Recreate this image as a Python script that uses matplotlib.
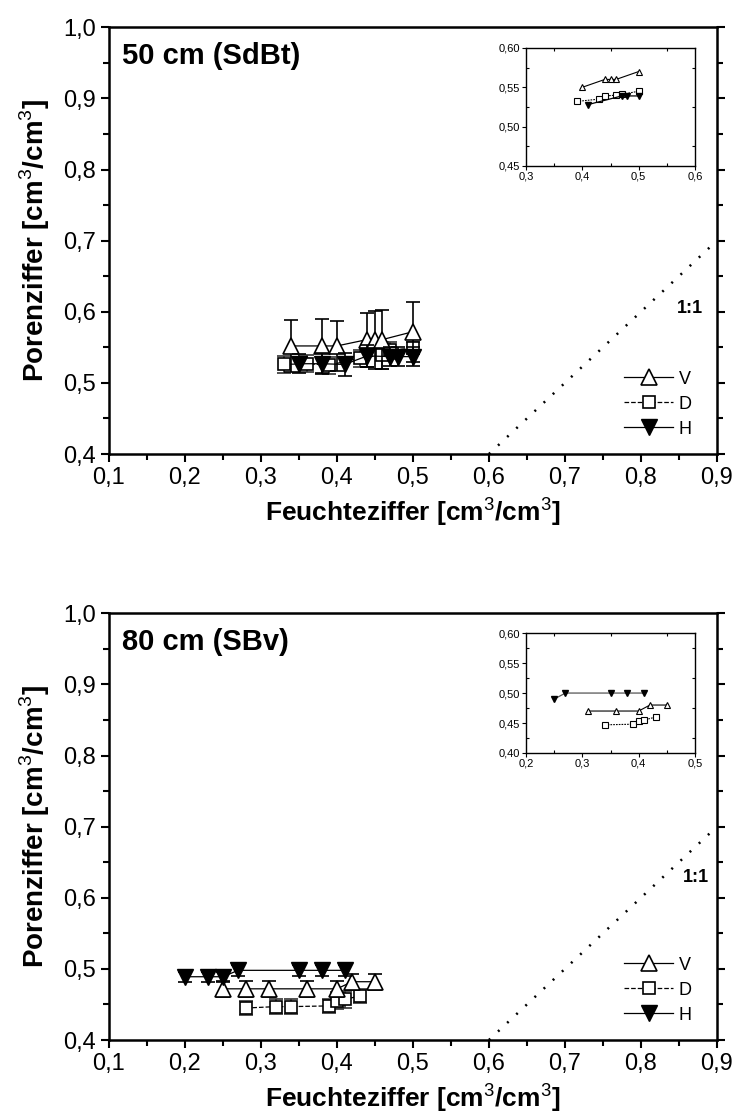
import numpy as np
import matplotlib
matplotlib.use('Agg')
from matplotlib import pyplot as plt
from matplotlib.lines import Line2D
from matplotlib.ticker import MultipleLocator, FuncFormatter

plt.rcParams.update({'font.family': ['Liberation Sans', 'DejaVu Sans'],
                     'mathtext.fontset': 'custom',
                     'mathtext.rm': 'Liberation Sans',
                     'mathtext.bf': 'Liberation Sans:bold'})

# --- 50 cm (SdBt), main panel ---
top_v_x = [0.34, 0.38, 0.40, 0.44, 0.45, 0.46, 0.50]
top_v_y = [0.552, 0.552, 0.552, 0.561, 0.560, 0.561, 0.572]
top_v_err = [0.037, 0.038, 0.035, 0.038, 0.041, 0.042, 0.042]
top_d_x = [0.33, 0.36, 0.39, 0.43, 0.46, 0.47, 0.50]
top_d_y = [0.526, 0.527, 0.525, 0.535, 0.539, 0.546, 0.549]
top_d_err = [0.012, 0.012, 0.012, 0.012, 0.019, 0.012, 0.008]
top_h_x = [0.35, 0.38, 0.41, 0.44, 0.47, 0.48, 0.50]
top_h_y = [0.527, 0.527, 0.526, 0.538, 0.537, 0.537, 0.537]
top_h_err = [0.013, 0.015, 0.016, 0.015, 0.013, 0.013, 0.013]

# --- 50 cm inset ---
top_in_v_x = [0.40, 0.44, 0.45, 0.46, 0.50]
top_in_v_y = [0.55, 0.56, 0.56, 0.56, 0.57]
top_in_d_x = [0.39, 0.43, 0.44, 0.46, 0.47, 0.50]
top_in_d_y = [0.532, 0.535, 0.539, 0.540, 0.541, 0.545]
top_in_h_x = [0.41, 0.47, 0.48, 0.50]
top_in_h_y = [0.528, 0.539, 0.539, 0.539]

# --- 80 cm (SBv), main panel ---
bot_v_x = [0.25, 0.28, 0.31, 0.36, 0.40, 0.42, 0.45]
bot_v_y = [0.472, 0.472, 0.472, 0.472, 0.472, 0.482, 0.482]
bot_v_err = [0.011, 0.011, 0.011, 0.011, 0.011, 0.011, 0.011]
bot_d_x = [0.28, 0.32, 0.34, 0.39, 0.40, 0.41, 0.43]
bot_d_y = [0.445, 0.447, 0.447, 0.448, 0.455, 0.457, 0.462]
bot_d_err = [0.010, 0.010, 0.010, 0.010, 0.012, 0.012, 0.010]
bot_h_x = [0.20, 0.23, 0.25, 0.27, 0.35, 0.38, 0.41]
bot_h_y = [0.489, 0.489, 0.489, 0.498, 0.498, 0.498, 0.498]
bot_h_err = [0.007, 0.007, 0.007, 0.008, 0.008, 0.008, 0.008]

# --- 80 cm inset ---
bot_in_v_x = [0.31, 0.36, 0.40, 0.42, 0.45]
bot_in_v_y = [0.47, 0.47, 0.47, 0.48, 0.48]
bot_in_d_x = [0.34, 0.39, 0.40, 0.41, 0.43]
bot_in_d_y = [0.447, 0.448, 0.453, 0.455, 0.460]
bot_in_h_x = [0.25, 0.27, 0.35, 0.38, 0.41]
bot_in_h_y = [0.49, 0.50, 0.50, 0.50, 0.50]

# dotted "1:1" reference line as drawn in the original
ref_x = [0.6, 0.9]
ref_y = [0.4, 0.7]


def comma(fmt):
    return FuncFormatter(lambda v, p: (fmt % v).replace('.', ','))


def main_panel(ax, title, vx, vy, ve, dx, dy, de, hx, hy, he, label_xy):
    ax.plot(ref_x, ref_y, color='k', lw=1.8, ls=(0, (0.8, 4.2)))
    ax.text(label_xy[0], label_xy[1], '1:1', fontsize=13, fontweight='bold',
            ha='center', va='center')

    ax.errorbar(dx, dy, yerr=de, color='k', ls='--', lw=0.9, marker='s', ms=8,
                mfc='white', mec='k', mew=1.2, ecolor='#333333', elinewidth=1.2,
                capsize=5, capthick=1.2, zorder=3)
    ax.errorbar(vx, vy, yerr=ve, color='k', ls='-', lw=0.9, marker='^', ms=12,
                mfc='white', mec='k', mew=1.2, ecolor='k', elinewidth=1.2,
                capsize=5, capthick=1.2, zorder=4)
    ax.errorbar(hx, hy, yerr=he, color='k', ls='-', lw=0.9, marker='v', ms=12,
                mfc='k', mec='k', ecolor='k', elinewidth=1.2,
                capsize=5, capthick=1.2, zorder=5)

    ax.set_xlim(0.1, 0.9)
    ax.set_ylim(0.4, 1.0)
    ax.xaxis.set_major_locator(MultipleLocator(0.1))
    ax.xaxis.set_minor_locator(MultipleLocator(0.05))
    ax.yaxis.set_major_locator(MultipleLocator(0.1))
    ax.yaxis.set_minor_locator(MultipleLocator(0.05))
    ax.xaxis.set_major_formatter(comma('%.1f'))
    ax.yaxis.set_major_formatter(comma('%.1f'))
    ax.tick_params(which='both', direction='out', right=True, width=1.5, labelsize=17)
    ax.tick_params(which='major', length=6)
    ax.tick_params(which='minor', length=4)
    for s in ax.spines.values():
        s.set_linewidth(1.8)
    ax.set_xlabel('Feuchteziffer [cm$^3$/cm$^3$]', fontsize=19, fontweight='bold', labelpad=4)
    ax.set_ylabel('Porenziffer [cm$^3$/cm$^3$]', fontsize=20, fontweight='bold', labelpad=8)
    ax.text(0.022, 0.965, title, transform=ax.transAxes, fontsize=21,
            fontweight='bold', ha='left', va='top')

    handles = [
        Line2D([], [], color='k', lw=0.9, marker='^', ms=12, mfc='white', mec='k', mew=1.2),
        Line2D([], [], color='k', lw=0.9, ls='--', marker='s', ms=8, mfc='white', mec='k', mew=1.2),
        Line2D([], [], color='k', lw=0.9, marker='v', ms=12, mfc='k', mec='k'),
    ]
    ax.legend(handles, ['V', 'D', 'H'], loc='lower right',
              bbox_to_anchor=(0.985, 0.0), frameon=False, fontsize=13,
              handlelength=2.7, handletextpad=0.3, labelspacing=0.45)


def inset(ax, xlim, xticks, ylim, yticks, vx, vy, dx, dy, hx, hy, hcolor):
    ax.plot(vx, vy, color='k', lw=0.8, marker='^', ms=5, mfc='white', mec='k', mew=0.8)
    ax.plot(dx, dy, color='k', lw=0.8, ls=(0, (1.5, 1)), marker='s', ms=4, mfc='white', mec='k', mew=0.8)
    ax.plot(hx, hy, color=hcolor, lw=0.9, marker='v', ms=5, mfc='k', mec='k')
    ax.set_xlim(*xlim)
    ax.set_ylim(*ylim)
    ax.set_xticks(xticks)
    ax.set_yticks(yticks)
    ax.xaxis.set_major_formatter(comma('%.1f'))
    ax.yaxis.set_major_formatter(comma('%.2f'))
    ax.xaxis.set_minor_locator(MultipleLocator(0.05))
    ax.yaxis.set_minor_locator(MultipleLocator((yticks[1] - yticks[0]) / 2))
    ax.tick_params(which='both', direction='out', labelsize=8, width=0.8, pad=1)
    ax.tick_params(which='major', length=3)
    ax.tick_params(which='minor', length=2, top=True, right=True, direction='in')
    for s in ax.spines.values():
        s.set_linewidth(1.0)


fig = plt.figure(figsize=(7.36, 11.2), dpi=100)
ax1 = fig.add_axes([0.148, 0.5946, 0.826, 0.381])
ax2 = fig.add_axes([0.148, 0.0714, 0.826, 0.381])

main_panel(ax1, '50 cm (SdBt)', top_v_x, top_v_y, top_v_err, top_d_x, top_d_y, top_d_err,
           top_h_x, top_h_y, top_h_err, (0.865, 0.605))
main_panel(ax2, '80 cm (SBv)', bot_v_x, bot_v_y, bot_v_err, bot_d_x, bot_d_y, bot_d_err,
           bot_h_x, bot_h_y, bot_h_err, (0.872, 0.628))

in1 = fig.add_axes([0.7147, 0.8518, 0.2296, 0.1054])
inset(in1, (0.3, 0.6), [0.3, 0.4, 0.5, 0.6], (0.45, 0.60), [0.45, 0.50, 0.55, 0.60],
      top_in_v_x, top_in_v_y, top_in_d_x, top_in_d_y, top_in_h_x, top_in_h_y, 'k')
in2 = fig.add_axes([0.7147, 0.3277, 0.2296, 0.107])
inset(in2, (0.2, 0.5), [0.2, 0.3, 0.4, 0.5], (0.40, 0.60), [0.40, 0.45, 0.50, 0.55, 0.60],
      bot_in_v_x, bot_in_v_y, bot_in_d_x, bot_in_d_y, bot_in_h_x, bot_in_h_y, '#555555')

fig.savefig('out.png', dpi=100, facecolor='white')
